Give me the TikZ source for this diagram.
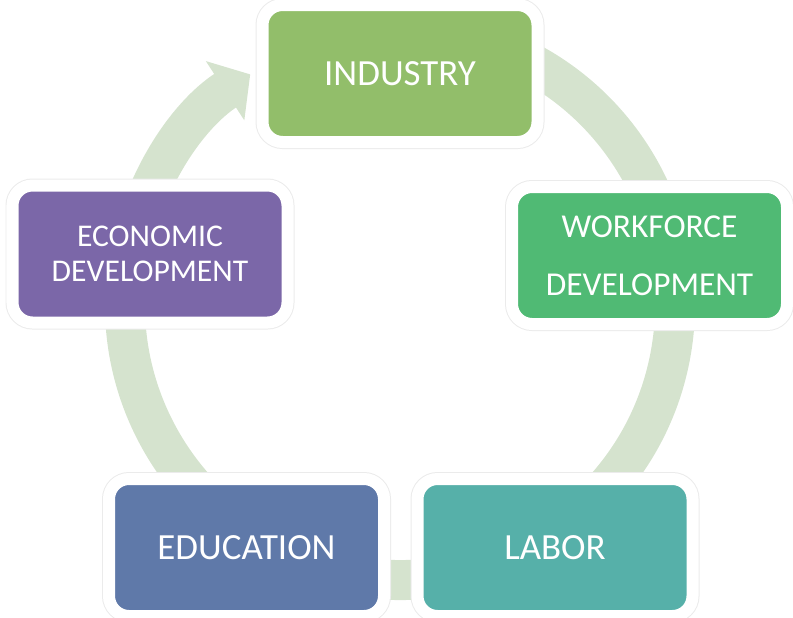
\documentclass[tikz,border=0pt]{standalone}
\usepackage{fontspec}
\setmainfont{Carlito}
\usetikzlibrary{arrows.meta}

\definecolor{ringgreen}{HTML}{D5E3CE}
\definecolor{industrycol}{HTML}{92BE6A}
\definecolor{workforcecol}{HTML}{50BA74}
\definecolor{laborcol}{HTML}{56B0A9}
\definecolor{educationcol}{HTML}{5F79A9}
\definecolor{economiccol}{HTML}{7B67A8}

\tikzset{
  cyclebox/.style={draw=white, line width=0.24cm, rectangle, rounded corners=0.4cm,
    minimum width=5.5cm, minimum height=2.74cm, align=center, text=white,
    font=\fontsize{21}{25}\selectfont,
    preaction={draw=black!8, line width=0.28cm}},
  cyclearrow/.style={draw=ringgreen, line width=0.8cm,
    -{Triangle[length=0.6cm, width=1.38cm]}}
}

\begin{document}
\begin{tikzpicture}
				\useasboundingbox (0,0) rectangle (15.86,12.34);
				\coordinate (hub) at (8,6.24);

				% Cycle ring behind the boxes
				\draw[cyclearrow] ([shift={(80:5.5)}]hub) arc[start angle=80, end angle=-237, radius=5.5];

				% Stages
				\node[cyclebox, fill=industrycol] (industry) at (8.00,10.87) {INDUSTRY};
				\node[cyclebox, fill=workforcecol, font=\fontsize{19}{33}\selectfont] (workforce) at (12.99,7.23) {WORKFORCE\\DEVELOPMENT};
				\node[cyclebox, fill=laborcol] (labor) at (11.10,1.39) {LABOR};
				\node[cyclebox, fill=educationcol] (education) at (4.93,1.39) {EDUCATION};
				\node[cyclebox, fill=economiccol, font=\fontsize{18}{20}\selectfont] (economic) at (3.00,7.26) {ECONOMIC\\DEVELOPMENT};
			\end{tikzpicture}
\end{document}
